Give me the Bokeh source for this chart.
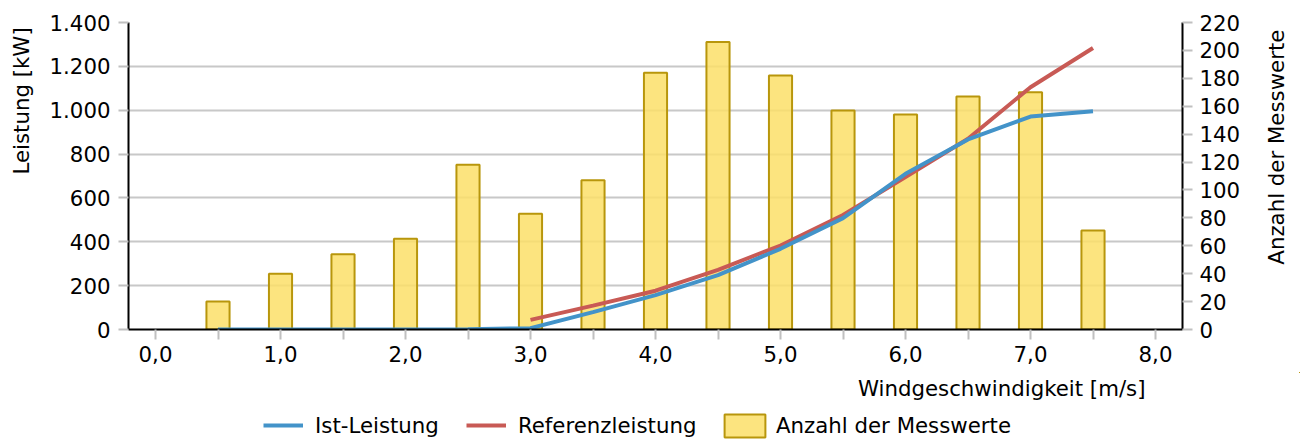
from bokeh.plotting import figure
from bokeh.models import (Range1d, LinearAxis, FixedTicker, Legend, LegendItem, Label)
from bokeh.layouts import row, column
from bokeh.embed import file_html
from bokeh.resources import INLINE
import math

# ---------------- data ----------------
wind_speed = [0.5, 1.0, 1.5, 2.0, 2.5, 3.0, 3.5, 4.0, 4.5, 5.0, 5.5, 6.0, 6.5, 7.0, 7.5]
anzahl = [20, 40, 54, 65, 118, 83, 107, 184, 206, 182, 157, 154, 167, 170, 71]
ist_leistung = [0, 0, 0, 0, 1, 6, 79, 157, 248, 368, 508, 710, 867, 971, 995]
ref_speed = [3.0, 3.5, 4.0, 4.5, 5.0, 5.5, 6.0, 6.5, 7.0, 7.5]
referenz = [44, 109, 177, 272, 383, 522, 695, 870, 1105, 1284]

x_tick_values = [0, 1, 2, 3, 4, 5, 6, 7, 8]
x_tick_labels = ["0,0", "1,0", "2,0", "3,0", "4,0", "5,0", "6,0", "7,0", "8,0"]
x_minor_values = [0.5, 1.5, 2.5, 3.5, 4.5, 5.5, 6.5, 7.5]
y_tick_values = [0, 200, 400, 600, 800, 1000, 1200, 1400]
y_tick_labels = ["0", "200", "400", "600", "800", "1.000", "1.200", "1.400"]
count_tick_values = [0, 20, 40, 60, 80, 100, 120, 140, 160, 180, 200, 220]
count_tick_labels = ["0", "20", "40", "60", "80", "100", "120", "140", "160", "180", "200", "220"]

series_names = ["Ist-Leistung", "Referenzleistung", "Anzahl der Messwerte"]
x_title = "Windgeschwindigkeit [m/s]"
y_title = "Leistung [kW]"
y2_title = "Anzahl der Messwerte"

FONT = "DejaVu Sans"
FS = "21.3px"
BLUE = "#4393c9"
RED = "#c85a55"
BAR_FILL = "#fcdf69"
BAR_LINE = "#b8960c"
GRID = "#c8c8c8"
TICK = "#c0c0c0"
LW = 4

TOP_H = 372
LEFT_W = 40
MAIN_W = 1205
RIGHT_W = 1300 - LEFT_W - MAIN_W
BOTTOM_H = 441 - TOP_H

# ---------------- main plot ----------------
p = figure(width=MAIN_W, height=TOP_H,
           x_range=Range1d(-0.216, 8.216), y_range=Range1d(0, 1400),
           output_backend="svg", toolbar_location=None,
           min_border_left=128 - LEFT_W, min_border_right=LEFT_W + MAIN_W - 1182,
           min_border_top=22, min_border_bottom=TOP_H - 329)
p.outline_line_color = None
p.background_fill_color = "white"
p.border_fill_color = "white"
p.extra_y_ranges = {"count": Range1d(0, 220)}

p.xgrid.visible = False
yt = FixedTicker(ticks=y_tick_values)
p.ygrid.ticker = yt
p.ygrid.grid_line_color = GRID
p.ygrid.grid_line_width = 2


def style_axis(ax, standoff):
    ax.axis_line_color = "black"
    ax.axis_line_width = 2
    ax.major_tick_line_color = TICK
    ax.major_tick_line_width = 2
    ax.major_tick_out = 10
    ax.major_tick_in = 0
    ax.major_label_standoff = standoff
    ax.major_label_text_font = FONT
    ax.major_label_text_font_size = FS
    ax.major_label_text_color = "black"


xa = p.xaxis[0]
xa.ticker = FixedTicker(ticks=x_tick_values, minor_ticks=x_minor_values)
xa.major_label_overrides = {float(v): l for v, l in zip(x_tick_values, x_tick_labels)}
style_axis(xa, 6)
xa.minor_tick_line_color = TICK
xa.minor_tick_line_width = 2
xa.minor_tick_out = 10
xa.minor_tick_in = 0

ya = p.yaxis[0]
ya.ticker = yt
ya.major_label_overrides = {v: l for v, l in zip(y_tick_values, y_tick_labels)}
style_axis(ya, 8)
ya.minor_tick_line_color = None

ra = LinearAxis(y_range_name="count", ticker=FixedTicker(ticks=count_tick_values))
ra.major_label_overrides = {v: l for v, l in zip(count_tick_values, count_tick_labels)}
style_axis(ra, 7)
ra.minor_tick_line_color = None
p.add_layout(ra, "right")

p.vbar(x=wind_speed, top=anzahl, bottom=0, width=0.185, y_range_name="count",
       fill_color=BAR_FILL, fill_alpha=0.85, line_color=BAR_LINE, line_width=2)
p.line(ref_speed, referenz, line_color=RED, line_width=LW)
p.line(wind_speed, ist_leistung, line_color=BLUE, line_width=LW)


def strip(w, h):
    f = figure(width=w, height=h, x_range=Range1d(0, w), y_range=Range1d(0, h),
               x_axis_type=None, y_axis_type=None,
               output_backend="svg", toolbar_location=None,
               min_border=0, min_border_left=0, min_border_right=0,
               min_border_top=0, min_border_bottom=0)
    f.outline_line_color = None
    f.background_fill_color = "white"
    f.border_fill_color = "white"
    return f


# ---------------- left title strip ----------------
left = strip(LEFT_W, TOP_H)
left.add_layout(Label(x=21, y=TOP_H - 95, text=y_title, angle=math.pi / 2,
                      text_align="center", text_baseline="middle",
                      text_font=FONT, text_font_size=FS, text_color="black"))

# ---------------- right title strip ----------------
right = strip(RIGHT_W, TOP_H)
right.add_layout(Label(x=1276 - LEFT_W - MAIN_W, y=TOP_H - 151, text=y2_title,
                       angle=math.pi / 2, text_align="center", text_baseline="middle",
                       text_font=FONT, text_font_size=FS, text_color="black"))

# ---------------- bottom strip: x title + legend ----------------
bottom = strip(1300, BOTTOM_H)
bottom.add_layout(Label(x=1145, y=441 - 388, text=x_title,
                        text_align="right", text_baseline="alphabetic",
                        text_font=FONT, text_font_size=FS, text_color="black"))

# legend proxies: the same series, mapped onto ranges that keep them out of view
bottom.extra_x_ranges = {"off": Range1d(-200, -100)}
bottom.extra_y_ranges = {"off": Range1d(-20000, -10000)}
l_blue = bottom.line(wind_speed, ist_leistung, line_color=BLUE, line_width=LW,
                     x_range_name="off", y_range_name="off")
l_red = bottom.line(ref_speed, referenz, line_color=RED, line_width=LW,
                    x_range_name="off", y_range_name="off")
l_bar = bottom.vbar(x=wind_speed, top=anzahl, width=0.185, fill_color=BAR_FILL,
                    fill_alpha=0.85, line_color=BAR_LINE, line_width=2,
                    x_range_name="off", y_range_name="off")

leg1 = Legend(items=[LegendItem(label=series_names[0], renderers=[l_blue]),
                     LegendItem(label=series_names[1], renderers=[l_red])],
              location=(263, 3), orientation="horizontal",
              glyph_width=40, glyph_height=26, label_standoff=12, spacing=27,
              padding=0, margin=0, border_line_color=None, background_fill_alpha=0,
              label_text_font=FONT, label_text_font_size=FS, label_text_color="black")
leg2 = Legend(items=[LegendItem(label=series_names[2], renderers=[l_bar])],
              location=(719, 1.5), orientation="horizontal",
              glyph_width=51, glyph_height=29, label_standoff=6, spacing=0,
              padding=0, margin=0, border_line_color=None, background_fill_alpha=0,
              label_text_font=FONT, label_text_font_size=FS, label_text_color="black")
bottom.add_layout(leg1)
bottom.add_layout(leg2)

layout = column(row(left, p, right, spacing=0), bottom, spacing=0)

open("out.html", "w").write(file_html(layout, INLINE))
